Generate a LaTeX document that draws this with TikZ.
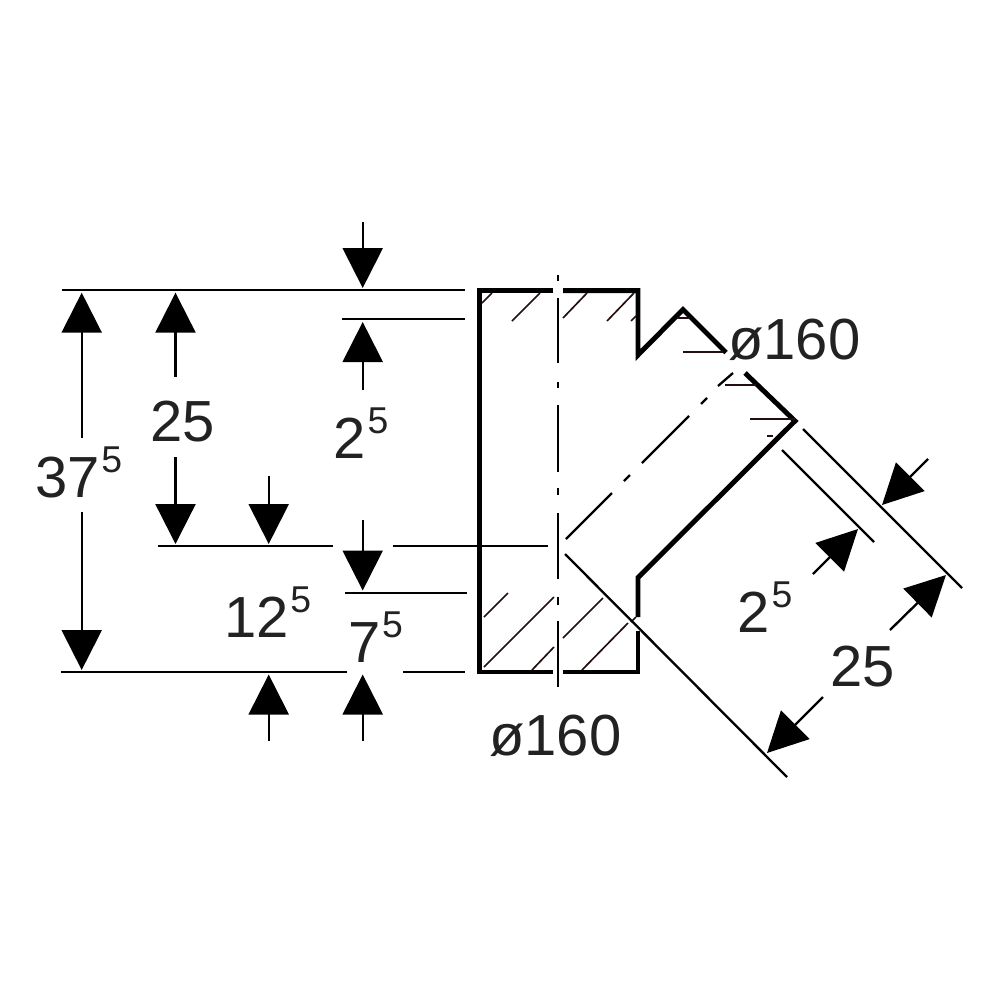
\documentclass[tikz,border=0pt]{standalone}
\usepackage{fontspec}
\setmainfont{Liberation Sans}
\usetikzlibrary{arrows.meta}
\definecolor{inkdark}{RGB}{34,34,34}
\definecolor{hatchred}{RGB}{35,15,15}
\newcommand{\powfive}{{\kern1.2pt\fontsize{28}{28}\selectfont\raisebox{18.75pt}{5}}}
\tikzset{
  dimline/.style={line width=1.75pt},
  dimarrow/.style={line width=1.75pt,-{Triangle[length=30pt,width=30pt,sep=0pt]}},
  outline/.style={line width=3.7pt,line join=miter,line cap=butt},
  axisline/.style={line width=1.7pt},
  hatchline/.style={line width=1.25pt,color=hatchred},
  dimtext/.style={anchor=base west,inner sep=0pt,text=inkdark,font=\fontsize{43.5}{43.5}\selectfont}
}
\begin{document}
\begin{tikzpicture}[x=0.75pt,y=0.75pt,yscale=-1,xscale=1]
        \useasboundingbox (0,0) rectangle (1000,1000);

        \draw [outline] (553,290.7) -- (479.3,290.7) -- (479.3,672) -- (553,672) ;
        \draw [outline] (563,290.7) -- (638,290.7) -- (638,355) -- (683,309.5) -- (726,352.5) ;
        \draw [outline] (745,373) -- (795,421) -- (638,577.5) -- (638,617) ;
        \draw [outline] (638,631) -- (638,672) -- (563,672) ;

        \draw [axisline] (558.3,275) -- (558.3,281) ;
        \draw [axisline] (558.3,298) -- (558.3,363) ;
        \draw [axisline] (558.3,382) -- (558.3,388) ;
        \draw [axisline] (558.3,405) -- (558.3,472) ;
        \draw [axisline] (558.3,488) -- (558.3,495) ;
        \draw [axisline] (558.3,513) -- (558.3,579) ;
        \draw [axisline] (558.3,597) -- (558.3,604.7) ;
        \draw [axisline] (558.3,621) -- (558.3,687) ;

        \draw [axisline] (566,539) -- (612,493) ;
        \draw [axisline] (624,481) -- (630,475) ;
        \draw [axisline] (642,463) -- (689,416) ;
        \draw [axisline] (701,404) -- (707,398) ;
        \draw [axisline] (718,386) -- (733,373) ;

        \draw [hatchline] (482,303) -- (492,293) ;
        \draw [hatchline] (512,321) -- (540,293) ;
        \draw [hatchline] (563,318) -- (587,293) ;
        \draw [hatchline] (607,321) -- (634,293) ;
        \draw [hatchline] (631,321) -- (636,316) ;
        \draw [hatchline] (677,318) -- (690,318) ;
        \draw [hatchline] (683,352) -- (723,352) ;
        \draw [hatchline] (725,385) -- (756,385) ;
        \draw [hatchline] (750,419) -- (795,419) ;
        \draw [hatchline] (767,436) -- (773,436) ;
        \draw [hatchline] (484,617) -- (508,593) ;
        \draw [hatchline] (484,667) -- (554,597) ;
        \draw [hatchline] (532,670) -- (554,647) ;
        \draw [hatchline] (563,638) -- (603,598) ;
        \draw [hatchline] (582,670) -- (628,623) ;
        \draw [hatchline] (631,622) -- (636,617) ;

        \draw [dimline] (61.7,290.3) -- (465,290.3) ;
        \draw [dimline] (342,319.3) -- (465,319.3) ;
        \draw [dimline] (158,546.3) -- (332.7,546.3) ;
        \draw [dimline] (392.5,546.3) -- (548,546.3) ;
        \draw [dimline] (345,592.7) -- (466.7,592.7) ;
        \draw [dimline] (61,671.7) -- (347,671.7) ;
        \draw [dimline] (403,671.7) -- (465,671.7) ;
        \draw [dimline] (565,554) -- (787,777) ;
        \draw [dimline] (803,429) -- (962,588) ;
        \draw [dimline] (782,450) -- (874,542) ;

        \draw [dimarrow] (81.7,438) -- (81.7,292.7) ;
        \draw [dimarrow] (81.7,511.7) -- (81.7,670) ;
        \draw [dimarrow] (175.5,377) -- (175.5,292.7) ;
        \draw [dimarrow] (175.5,457) -- (175.5,544) ;
        \draw [dimarrow] (268.7,476) -- (268.7,544) ;
        \draw [dimarrow] (268.7,741) -- (268.7,674.5) ;
        \draw [dimarrow] (362.7,222) -- (362.7,288) ;
        \draw [dimarrow] (362.7,390) -- (362.7,322) ;
        \draw [dimarrow] (362.7,519.6) -- (362.7,590.5) ;
        \draw [dimarrow] (362.7,741) -- (362.7,674.5) ;
        \draw [dimarrow] (928,459) -- (882,505) ;
        \draw [dimarrow] (813,574) -- (858,529) ;
        \draw [dimarrow] (890,630) -- (946,575) ;
        \draw [dimarrow] (823,697) -- (767,753) ;

        \node (lblTotal) [dimtext] at (35,497) {37\powfive};
        \node (lblLeg) [dimtext] at (150,441) {25};
        \node (lblLip) [dimtext] at (333.5,458) {2\powfive};
        \node (lblOffset) [dimtext] at (224,637) {12\powfive};
        \node (lblBase) [dimtext] at (348,662) {7\powfive};
        \node (lblBranchDia) [dimtext] at (728,359) {ø160};
        \node (lblMainDia) [dimtext] at (489,755) {ø160};
        \node (lblBranchLip) [dimtext] at (737.5,632) {2\powfive};
        \node (lblBranchLeg) [dimtext] at (830,686) {25};
\end{tikzpicture}
\end{document}
